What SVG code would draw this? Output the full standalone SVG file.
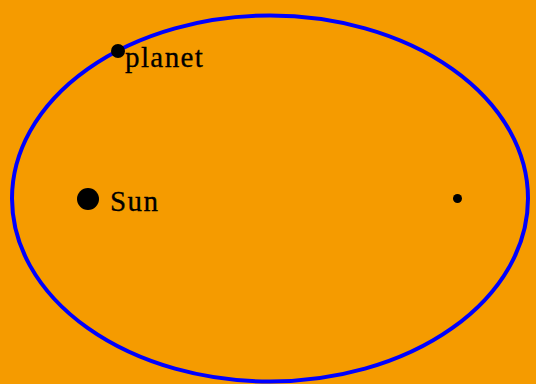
<svg xmlns="http://www.w3.org/2000/svg" width="536" height="384" viewBox="0 0 536 384">
<style>
.lbl{font-family:"Liberation Serif","Times New Roman",serif;font-size:29px;letter-spacing:1.4px;fill:#000;stroke:#000;stroke-width:0.3px}
.dot{fill:#000}
</style>
<rect x="0" y="0" width="536" height="384" fill="#F59B00"/>
<g id="orbit"><ellipse cx="270" cy="198.5" rx="258" ry="183" fill="none" stroke="#0000FF" stroke-width="4"/></g>
<g id="sun"><circle class="dot" cx="88" cy="199" r="11"/><text class="lbl" x="110" y="211">Sun</text></g>
<g id="planet"><circle class="dot" cx="118" cy="51" r="7"/><text class="lbl" x="125" y="67">planet</text></g>
<g id="focus"><circle class="dot" cx="457.5" cy="198.5" r="4.5"/></g>
</svg>
